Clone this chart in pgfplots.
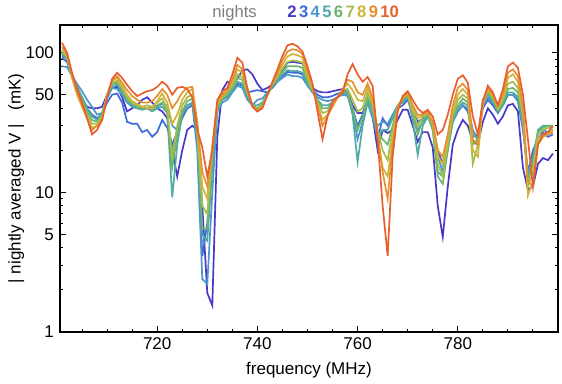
\documentclass[border=0pt]{standalone}
\usepackage{fontspec}
\setmainfont{Liberation Sans}
\usepackage{pgfplots}
\usepackage{pgfplotstable}
\pgfplotsset{compat=1.18}

\definecolor{c2}{RGB}{72,56,200}
\definecolor{c3}{RGB}{62,105,215}
\definecolor{c4}{RGB}{75,150,205}
\definecolor{c5}{RGB}{80,170,165}
\definecolor{c6}{RGB}{110,180,110}
\definecolor{c7}{RGB}{165,190,75}
\definecolor{c8}{RGB}{210,180,60}
\definecolor{c9}{RGB}{228,145,50}
\definecolor{c10}{RGB}{232,95,45}
\definecolor{nightgray}{RGB}{125,125,125}

% |V| averaged per night, in mK
\pgfplotstableread{
f   n2   n3  n4  n5  n6  n7  n8  n9  n10
701 96   92  80  98  100 102 105 110 118
702 90   86  79  90  92  94  96  100 100
703 70   68  68  70  68  67  66  68  72
704 56   56  60  57  55  53  50  52  55
705 47   48  53  48  46  44  41  42  44
706 41   40  46  40  38  36  34  34  34
707 40   36  41  35  33  31  29  28  26
708 40   34  36  33  32  31  30  30  28
709 41   36  37  37  36  35  34  33  33
710 50   44  47  49  50  50  50  49  48
711 56   50  56  58  60  61  63  63  65
712 57   51  55  59  61  63  66  68  72
713 48   44  50  52  54  56  58  61  66
714 38   32  44  45  46  48  50  54  59
715 40   31  41  42  43  44  45  49  53
716 42   31  40  40  41  42  43  46  49
717 46   27  40  39  40  41  41  44  51
718 48   28  40  40  40  42  40  44  53
719 44   25  41  38  39  41  40  45  54
720 40   27  41  40  42  44  45  49  57
721 38   33  43  41  44  47  51  55  62
722 34   29  42  37  38  40  44  50  58
723 20   22  30  9.2 15  18  31  40  50
724 13   27  28  22  26  30  36  45  56
725 20   34  38  36  38  42  46  52  57
726 28   40  42  42  45  48  52  56  55
727 30   42  43  44  47  50  55  57  48
728 28   30  20  25  27  28  30  32  28
729 8    3.5 2.4 5   5.5 8   11  14  21
730 1.9  6   2.2 4.5 5.5 7   9   11  13
731 1.55 20  10  15  18  20  22  20  20
732 25   40  38  38  40  42  44  44  46
733 54   46  44  46  47  48  50  50  53
734 62   50  46  48  50  52  54  54  56
735 60   55  52  54  56  58  61  64  70
736 65   60  58  62  66  70  76  82  92
737 75   58  56  60  64  67  72  76  85
738 76   52  46  48  50  52  54  56  55
739 70   53  42  42  42  42  42  42  41
740 60   54  46  42  40  39  38  38  38
741 54   53  47  44  43  42  41  41  40
742 56   52  52  50  50  50  50  50  50
743 59   56  58  58  58  59  60  60  62
744 68   62  62  64  66  68  70  72  76
745 75   68  66  70  73  77  82  88  95
746 85   73  70  75  80  86  94  102 113
747 86   72  68  74  80  88  98  106 116
748 85   72  68  74  80  87  96  104 111
749 84   70  66  72  78  85  92  98  102
750 68   60  58  60  63  66  70  74  80
751 56   54  52  52  53  54  56  58  60
752 53   50  48  46  45  44  42  42  38
753 52   48  46  42  40  37  33  30  24
754 52   48  45  42  40  38  36  35  35
755 53   49  46  44  43  42  41  42  45
756 54   51  48  48  48  48  48  48  48
757 55   52  50  52  53  54  55  54  52
758 52   50  49  50  52  55  60  64  70
759 42   40  38  36  40  46  54  62  83
760 37   30  24  16.5 28 38  46  52  70
761 37   36  32  30  35  40  45  50  62
762 46   44  46  44  48  52  56  60  67
763 35   34  36  35  40  42  45  48  58
764 20   24  30  25  27  28  25  26  24
765 28   34  32  28  24  20  15  14  8
766 26.6 30  31  28  22  17  13  9   3.5
767 28   34  36  34  30  28  24  22  18
768 33   40  42  42  42  42  40  40  38
769 39   42  44  45  46  47  47  48  49
770 39   46  48  48  50  50  51  52  53
771 30   38  36  33  36  38  40  42  46
772 23   32  28  18.6 26 30  34  36  40
773 27   34  32  30  33  35  36  36  37
774 27   35  36  35  36  37  38  38  39
775 21   30  30  28  28  30  31  32  35
776 8    20  18  14  13  16  18  20  26
777 4.8  16  14  13  11.5 13 16  18  28
778 11   24  22  20  20  22  24  26  36
779 22   32  32  32  34  36  38  42  50
780 28   38  38  40  42  46  50  56  65
781 33   42  42  44  47  50  55  60  69
782 30   38  40  42  44  47  50  54  61
783 23   25  28  26  22  16  20  24  35
784 22   26  24  24  24  22  18  22  26
785 32   40  42  44  46  46  42  44  45
786 40   46  48  50  52  54  54  56  58
787 36   42  44  45  46  48  49  50  52
788 31   37  38  38  38  40  41  42  42
789 35   42  42  42  44  46  48  50  55
790 42   50  50  52  55  60  66  72  80
791 43   50  50  52  56  62  70  76  85
792 38   45  46  48  52  56  62  68  78
793 15   28  30  30  34  36  38  42  50
794 10.5 14  14  13  12  11  9.5 12  24
795 11   20  18  17  16  14  12  11  11
796 16   24  26  28  27  26  24  22  22
797 17.6 27  28  30  29  28  26  25  26
798 17   25  27  30  30  29  27  26  27
799 19   26  28  30  30  29  28  27  30
}\nights

\begin{document}
\fontsize{8.5}{10}\selectfont
\begin{tikzpicture}
\begin{axis}[
    scale only axis,
    width=249pt, height=153.5pt,
    xmin=700.6, xmax=800,
    ymode=log, ymin=1, ymax=158,
    xtick={720,740,760,780},
    xticklabels={720,740,760,780},
    minor xtick={705,710,715,725,730,735,745,750,755,765,770,775,785,790,795},
    ytick={1,5,10,50,100},
    yticklabels={1,5,10,50,100},
    minor ytick={2,3,4,6,7,8,9,20,30,40,60,70,80,90},
    tick align=inside,
    major tick length=3pt,
    minor tick length=1.5pt,
    every tick/.style={black, line width=0.5pt},
    axis line style={line width=1pt},
    /pgf/number format/assume math mode=true,
    xlabel={frequency (MHz)},
    ylabel={\textbar\ nightly averaged V \textbar\hspace{0.8em}(mK)},
    xlabel style={at={(axis description cs:0.5,-0.124)}, anchor=center},
    ylabel style={at={(axis description cs:-0.088,0.5)}, anchor=center},
]
\addplot[c2, line width=0.85pt] table[x=f, y=n2] {\nights};
\addplot[c3, line width=0.85pt] table[x=f, y=n3] {\nights};
\addplot[c4, line width=0.85pt] table[x=f, y=n4] {\nights};
\addplot[c5, line width=0.85pt] table[x=f, y=n5] {\nights};
\addplot[c6, line width=0.85pt] table[x=f, y=n6] {\nights};
\addplot[c7, line width=0.85pt] table[x=f, y=n7] {\nights};
\addplot[c8, line width=0.85pt] table[x=f, y=n8] {\nights};
\addplot[c9, line width=0.85pt] table[x=f, y=n9] {\nights};
\addplot[c10, line width=0.85pt] table[x=f, y=n10] {\nights};
\end{axis}
% legend row above the frame
\node[anchor=base west, inner sep=0, text=nightgray, font=\fontsize{8.3}{9}\selectfont]
    at (76pt,157pt) {nights};
\node[anchor=base west, inner sep=0, font=\fontsize{8.3}{9}\selectfont\bfseries] at (113.5pt,157pt)
    {\textcolor{c2}{2}\kern1.2pt\textcolor{c3}{3}\kern1.2pt\textcolor{c4}{4}\kern1.2pt%
     \textcolor{c5}{5}\kern1.2pt\textcolor{c6}{6}\kern1.2pt\textcolor{c7}{7}\kern1.2pt%
     \textcolor{c8}{8}\kern1.2pt\textcolor{c9}{9}\kern1.2pt\textcolor{c10}{10}};
\pgfresetboundingbox
\path (-30pt,-26pt) rectangle (251pt,166pt);
\end{tikzpicture}
\end{document}
